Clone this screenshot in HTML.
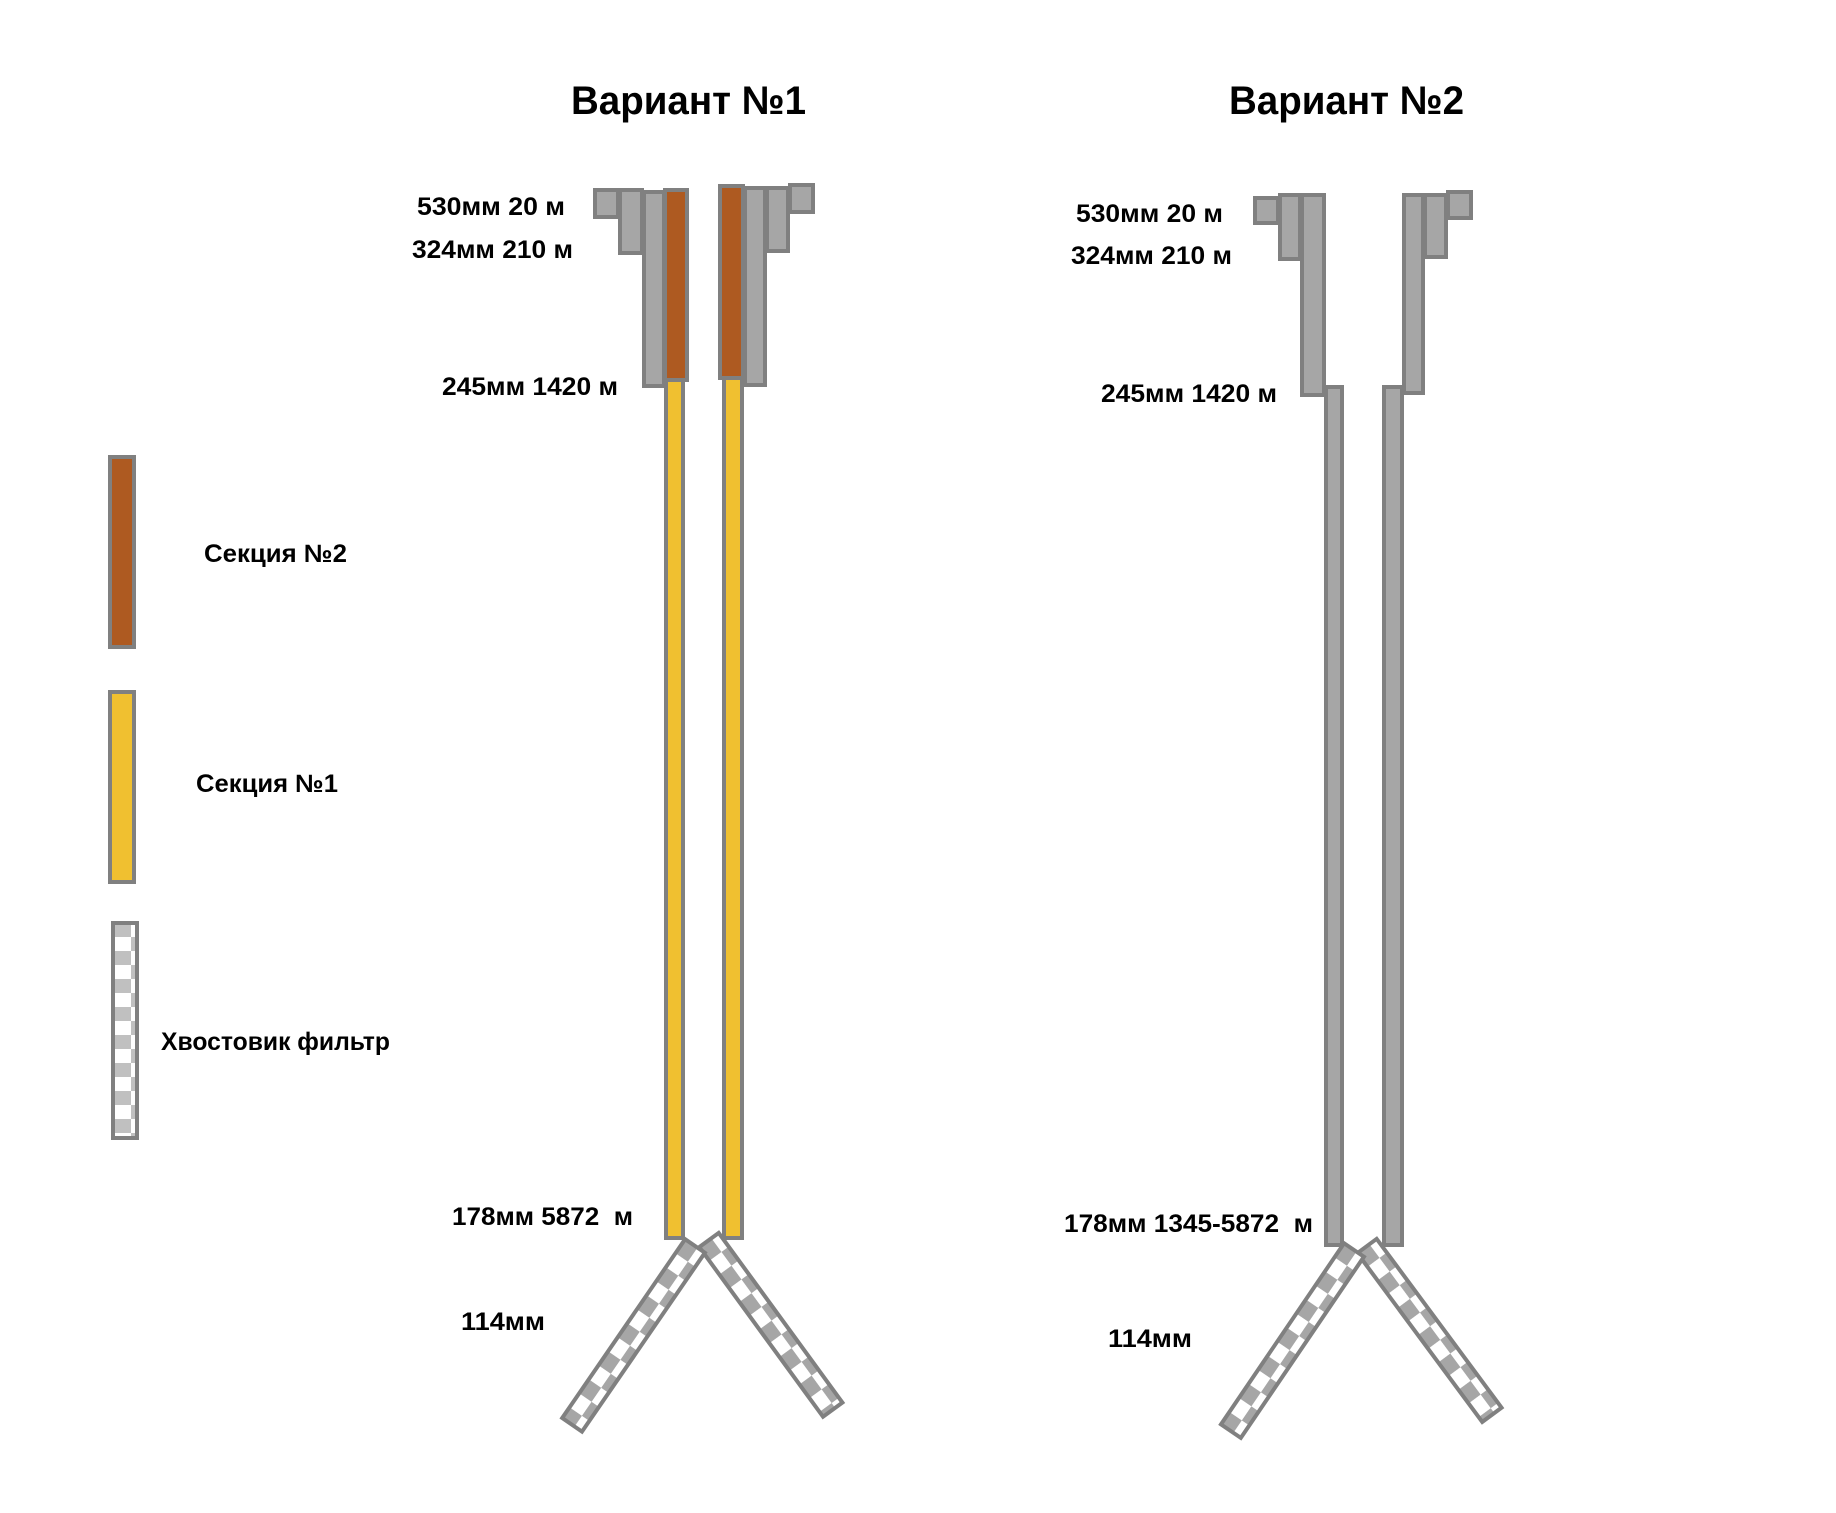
<!DOCTYPE html>
<html><head><meta charset="utf-8"><style>
html,body{margin:0;padding:0;background:#fff}
svg{display:block}
text{font-family:"Liberation Sans",sans-serif;font-weight:bold;fill:#000}
</style></head><body>
<svg width="1836" height="1513" viewBox="0 0 1836 1513" xmlns="http://www.w3.org/2000/svg">
<defs>
<pattern id="chk" width="34" height="34" patternUnits="userSpaceOnUse" x="-14" y="0">
<rect width="34" height="34" fill="#fff"/>
<rect x="0" y="0" width="17" height="17" fill="#a6a6a6"/>
<rect x="17" y="17" width="17" height="17" fill="#a6a6a6"/>
</pattern>
<pattern id="chkL" width="36" height="28" patternUnits="userSpaceOnUse" x="113" y="923">
<rect width="36" height="28" fill="#fff"/>
<rect x="0" y="0" width="18" height="14" fill="#c0c0c0"/>
<rect x="18" y="14" width="18" height="14" fill="#c0c0c0"/>
</pattern>
</defs>
<g stroke="#808080" stroke-width="4">
<rect x="595" y="190" width="23" height="27" fill="#a6a6a6"/>
<rect x="620" y="190" width="22" height="63" fill="#a6a6a6"/>
<rect x="644" y="192" width="20" height="194" fill="#a6a6a6"/>
<rect x="745" y="188" width="20" height="197" fill="#a6a6a6"/>
<rect x="767" y="188" width="21" height="63" fill="#a6a6a6"/>
<rect x="790" y="185" width="23" height="27" fill="#a6a6a6"/>
<rect x="665" y="190" width="22" height="190" fill="#ae5a21"/>
<rect x="720" y="186" width="23" height="192" fill="#ae5a21"/>
<rect x="666" y="380" width="17" height="858" fill="#f0c030"/>
<rect x="724" y="378" width="18" height="860" fill="#f0c030"/>
<g transform="translate(709,1240) rotate(-36.1)"><rect x="-12" y="0" width="24" height="210" fill="url(#chk)"/></g>
<g transform="translate(695,1246) rotate(34.5)"><rect x="-12" y="0" width="24" height="217" fill="url(#chk)"/></g>

<rect x="1255" y="198" width="23" height="25" fill="#a6a6a6"/>
<rect x="1280" y="195" width="20" height="64" fill="#a6a6a6"/>
<rect x="1302" y="195" width="22" height="200" fill="#a6a6a6"/>
<rect x="1326" y="387" width="16" height="858" fill="#a6a6a6"/>
<rect x="1384" y="387" width="18" height="858" fill="#a6a6a6"/>
<rect x="1404" y="195" width="19" height="198" fill="#a6a6a6"/>
<rect x="1425" y="195" width="21" height="62" fill="#a6a6a6"/>
<rect x="1448" y="192" width="23" height="26" fill="#a6a6a6"/>
<g transform="translate(1367,1246) rotate(-36.5)"><rect x="-12" y="0" width="24" height="210" fill="url(#chk)"/></g>
<g transform="translate(1354,1250) rotate(34.2)"><rect x="-12" y="0" width="24" height="219" fill="url(#chk)"/></g>

<rect x="110" y="457" width="24" height="190" fill="#ae5a21"/>
<rect x="110" y="692" width="24" height="190" fill="#f0c030"/>
<rect x="113" y="923" width="24" height="215" fill="url(#chkL)"/>
</g>

<text x="571" y="114" font-size="40" textLength="235" lengthAdjust="spacingAndGlyphs">Вариант №1</text>
<text x="1229" y="114" font-size="40" textLength="235" lengthAdjust="spacingAndGlyphs">Вариант №2</text>

<text x="417" y="215" font-size="25" textLength="148" lengthAdjust="spacingAndGlyphs">530мм 20 м</text>
<text x="412" y="258" font-size="25" textLength="161" lengthAdjust="spacingAndGlyphs">324мм 210 м</text>
<text x="442" y="395" font-size="25" textLength="176" lengthAdjust="spacingAndGlyphs">245мм 1420 м</text>
<text x="452" y="1225" font-size="25" textLength="181" lengthAdjust="spacingAndGlyphs" xml:space="preserve">178мм 5872  м</text>
<text x="461" y="1330" font-size="25" textLength="84" lengthAdjust="spacingAndGlyphs">114мм</text>

<text x="1076" y="222" font-size="25" textLength="147" lengthAdjust="spacingAndGlyphs">530мм 20 м</text>
<text x="1071" y="264" font-size="25" textLength="161" lengthAdjust="spacingAndGlyphs">324мм 210 м</text>
<text x="1101" y="402" font-size="25" textLength="176" lengthAdjust="spacingAndGlyphs">245мм 1420 м</text>
<text x="1064" y="1232" font-size="25" textLength="249" lengthAdjust="spacingAndGlyphs" xml:space="preserve">178мм 1345-5872  м</text>
<text x="1108" y="1347" font-size="25" textLength="84" lengthAdjust="spacingAndGlyphs">114мм</text>

<text x="204" y="562" font-size="25" textLength="143" lengthAdjust="spacingAndGlyphs">Секция №2</text>
<text x="196" y="792" font-size="25" textLength="142" lengthAdjust="spacingAndGlyphs">Секция №1</text>
<text x="161" y="1050" font-size="25" textLength="229" lengthAdjust="spacingAndGlyphs">Хвостовик фильтр</text>
</svg>
</body></html>
